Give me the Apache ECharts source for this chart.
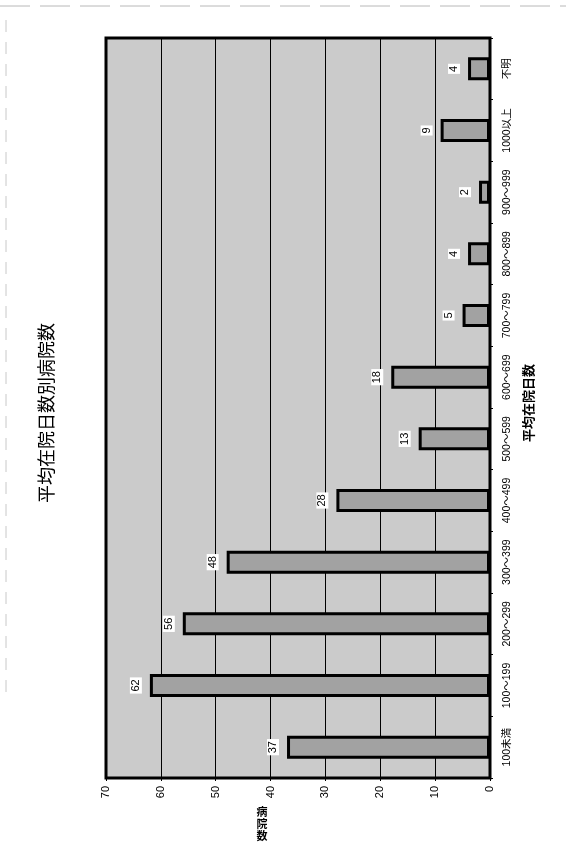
<!DOCTYPE html>
<html>
<head>
<meta charset="utf-8">
<script src="https://cdn.jsdelivr.net/npm/echarts@6/dist/echarts.min.js"></script>
<style>
  html, body { margin: 0; padding: 0; background: #ffffff; }
  #chart { width: 566px; height: 852px; }
</style>
</head>
<body>
<div id="chart"></div>
<script>
// 平均在院日数の階級（下から上へ並ぶ）
const categories = [
  '100未満', '100～199', '200～299', '300～399', '400～499', '500～599',
  '600～699', '700～799', '800～899', '900～999', '1000以上', '不明'
];
// 各階級の病院数
const hospitalCounts = [37, 62, 56, 48, 28, 13, 18, 5, 4, 2, 9, 4];
// 病院数軸の目盛り
const countAxisMin = 0;
const countAxisMax = 70;
const countAxisStep = 10;

const titleText = '平均在院日数別病院数';
const categoryAxisName = '平均在院日数';
const countAxisName = '病院数';

const FONT = "'Liberation Sans', 'Noto Sans CJK JP', sans-serif";
const CJK_FONT = "'Noto Sans CJK JP', 'Liberation Sans', sans-serif";

const chart = echarts.init(document.getElementById('chart'), null, { renderer: 'canvas' });

// The count-axis title is stacked one character per line, each character upright.
const countAxisNameGlyphs = countAxisName.split('').map(function (ch, i) {
  return {
    type: 'text', x: 262, y: 812 + i * 12,
    style: {
      text: ch, fill: '#000', align: 'center', verticalAlign: 'middle',
      font: "bold 11px " + CJK_FONT
    }
  };
});

// The page is laid out sideways: bars grow leftward from the zero line on the right,
// and every other piece of text reads from bottom to top.
chart.setOption({
  animation: false,
  backgroundColor: '#ffffff',
  grid: {
    left: 106, right: 76, top: 38, bottom: 74,
    show: true,
    backgroundColor: '#cbcbcb',
    borderColor: '#000000',
    borderWidth: 3
  },
  xAxis: {
    type: 'value',
    inverse: true,
    position: 'bottom',
    min: countAxisMin,
    max: countAxisMax,
    interval: countAxisStep,
    axisLine: { show: false },
    axisTick: { show: true, length: 3, lineStyle: { color: '#000', width: 1 } },
    axisLabel: {
      rotate: 90, margin: 8, fontSize: 11, color: '#000', fontFamily: FONT
    },
    splitLine: { show: true, lineStyle: { color: '#000', width: 1 } }
  },
  yAxis: {
    type: 'category',
    position: 'right',
    data: categories,
    axisLine: { show: false },
    axisTick: { show: true, length: 3, lineStyle: { color: '#000', width: 1 } },
    axisLabel: {
      rotate: 90, margin: 12, fontSize: 10.5, color: '#000', fontFamily: FONT
    },
    splitLine: { show: false }
  },
  series: [{
    type: 'bar',
    data: hospitalCounts,
    barWidth: 23,
    itemStyle: {
      color: '#a2a2a2',
      borderColor: '#000000',
      borderWidth: 3
    },
    label: {
      show: true,
      position: 'left',
      distance: 14,
      rotate: 90,
      align: 'center',
      verticalAlign: 'middle',
      fontSize: 11,
      color: '#000',
      fontFamily: FONT,
      backgroundColor: '#ffffff',
      padding: [1, 2, 0, 2]
    }
  }],
  graphic: [
    {
      type: 'text', x: 46, y: 413, rotation: Math.PI / 2,
      style: {
        text: titleText, fill: '#000', align: 'center', verticalAlign: 'middle',
        font: "18px " + CJK_FONT
      }
    },
    {
      type: 'text', x: 528, y: 403, rotation: Math.PI / 2,
      style: {
        text: categoryAxisName, fill: '#000', align: 'center', verticalAlign: 'middle',
        font: "bold 13px " + CJK_FONT
      }
    }
  ].concat(countAxisNameGlyphs, [
    {
      type: 'line', shape: { x1: 0, y1: 6, x2: 566, y2: 6 },
      style: { stroke: '#b8b8b8', lineWidth: 1, lineDash: [30, 10] }
    },
    {
      type: 'line', shape: { x1: 6, y1: 20, x2: 6, y2: 700 },
      style: { stroke: '#c8c8c8', lineWidth: 1, lineDash: [12, 10] }
    }
  ])
});
</script>
</body>
</html>
